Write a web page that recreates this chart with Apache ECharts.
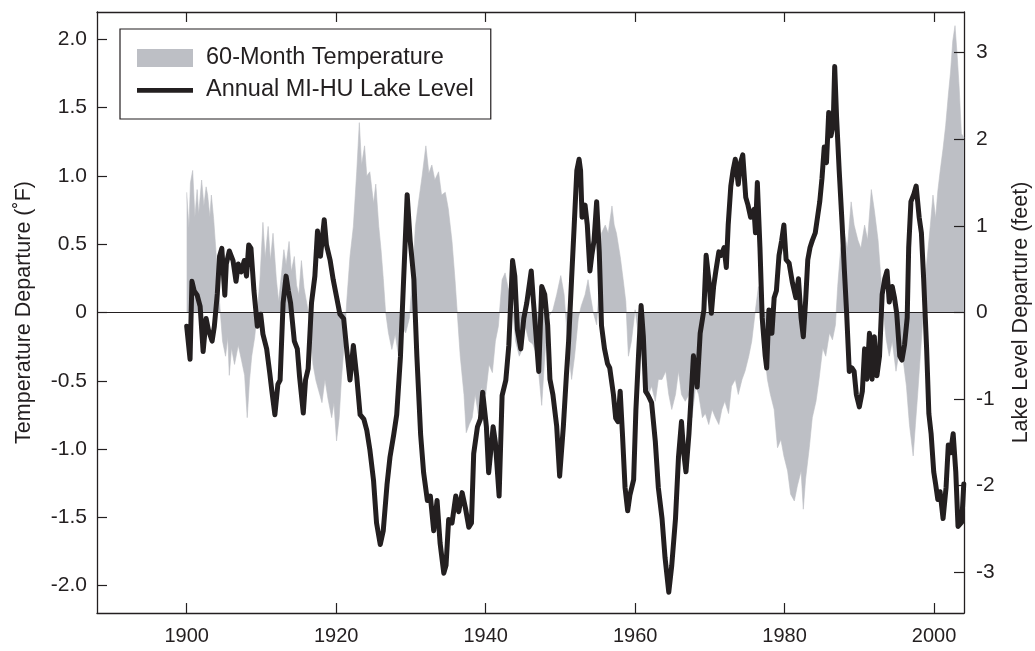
<!DOCTYPE html>
<html>
<head>
<meta charset="utf-8">
<script src="https://cdn.jsdelivr.net/npm/echarts@6/dist/echarts.min.js"></script>
<style>
html,body{margin:0;padding:0;background:#fff;}
#chart{width:1035px;height:651px;}
</style>
</head>
<body>
<div id="chart"></div>
<script>
// 60-month temperature departure (°F)
const tempYears = [1900.0,1900.3,1900.5,1900.8,1901.1,1901.4,1901.6,1902.0,1902.3,1902.6,1902.8,1903.1,1903.3,1903.6,1903.9,1904.25,1904.5,1904.8,1905.2,1905.5,1905.7,1906.0,1906.4,1906.9,1907.3,1907.75,1908.1,1908.4,1908.7,1909.1,1909.45,1909.8,1910.2,1910.5,1910.9,1911.2,1911.55,1912.0,1912.3,1912.7,1913.0,1913.3,1913.7,1914.0,1914.4,1914.7,1915.0,1915.35,1915.7,1916.25,1916.6,1916.9,1917.3,1917.8,1918.1,1918.5,1918.9,1919.4,1919.7,1920.05,1920.4,1920.7,1921.1,1921.4,1921.85,1922.3,1922.75,1923.1,1923.4,1923.8,1924.1,1924.5,1925.0,1925.3,1925.7,1926.0,1926.3,1926.6,1927.0,1927.45,1927.9,1928.35,1928.8,1929.3,1929.8,1930.1,1930.6,1931.0,1931.5,1932.0,1932.4,1932.8,1933.2,1933.7,1934.1,1934.6,1935.0,1935.5,1935.9,1936.2,1936.6,1937.1,1937.4,1937.8,1938.2,1938.6,1939.0,1939.45,1940.0,1940.45,1940.9,1941.3,1941.7,1942.2,1942.6,1943.0,1943.5,1944.0,1944.5,1944.9,1945.3,1945.8,1946.3,1946.9,1947.5,1947.9,1948.35,1949.0,1949.5,1950.05,1950.5,1950.95,1951.5,1951.9,1952.4,1952.8,1953.3,1953.7,1954.0,1954.4,1954.85,1955.2,1955.5,1956.0,1956.4,1956.9,1957.2,1957.5,1958.0,1958.4,1958.75,1959.1,1959.5,1960.0,1960.4,1960.9,1961.3,1961.8,1962.2,1962.7,1963.1,1963.6,1964.1,1964.5,1964.9,1965.4,1965.8,1966.2,1966.7,1967.2,1967.6,1968.1,1968.5,1969.0,1969.4,1969.85,1970.3,1970.75,1971.2,1971.6,1972.0,1972.5,1972.9,1973.4,1973.8,1974.3,1974.7,1975.2,1975.6,1976.1,1976.5,1976.8,1977.25,1977.7,1978.1,1978.6,1979.05,1979.5,1979.9,1980.4,1980.8,1981.3,1981.7,1982.2,1982.5,1982.8,1983.3,1983.7,1984.2,1984.6,1985.1,1985.5,1986.0,1986.4,1986.8,1987.1,1987.5,1988.0,1988.4,1988.9,1989.3,1989.8,1990.2,1990.7,1991.1,1991.6,1992.0,1992.5,1992.9,1993.2,1993.6,1994.0,1994.4,1994.9,1995.4,1995.8,1996.3,1996.7,1997.2,1997.5,1997.8,1998.15,1998.5,1998.9,1999.2,1999.5,1999.85,2000.2,2000.5,2000.8,2001.2,2001.55,2001.9,2002.2,2002.5,2002.8,2003.1,2003.35,2003.65,2004.0];
const tempValues = [0.88,0.62,0.95,1.04,0.70,0.90,0.72,0.97,0.78,0.92,0.86,0.70,0.86,0.69,0.46,0.18,0.00,-0.21,-0.32,-0.18,-0.46,-0.26,-0.38,-0.24,-0.34,-0.46,-0.77,-0.50,-0.32,-0.18,0.01,0.24,0.66,0.40,0.63,0.38,0.58,0.24,0.08,0.29,0.46,0.35,0.52,0.30,0.41,0.20,0.13,0.38,0.18,0.01,-0.18,-0.38,-0.50,-0.60,-0.66,-0.49,-0.63,-0.77,-0.66,-0.94,-0.77,-0.49,-0.21,0.07,0.41,0.63,1.03,1.39,1.08,1.22,1.00,1.03,0.80,0.94,0.63,0.46,0.25,0.01,-0.15,-0.27,-0.16,-0.32,-0.10,-0.15,-0.04,0.18,0.63,0.80,1.00,1.22,1.02,1.08,0.97,1.03,0.86,0.88,0.76,0.52,0.24,0.00,-0.32,-0.60,-0.88,-0.82,-0.77,-0.60,-0.74,-0.55,-0.60,-0.38,-0.44,-0.21,-0.10,0.24,0.29,0.18,0.10,-0.21,-0.32,-0.27,-0.10,-0.21,-0.23,-0.32,-0.68,-0.33,-0.04,0.02,0.13,0.27,0.13,-0.20,-0.49,-0.32,-0.04,0.05,0.13,0.24,0.13,0.00,-0.09,0.19,0.58,0.64,0.58,0.78,0.64,0.58,0.41,0.24,0.08,-0.32,-0.21,0.02,-0.15,-0.32,-0.49,-0.60,-0.54,-0.65,-0.49,-0.49,-0.43,-0.60,-0.71,-0.60,-0.43,-0.60,-0.65,-0.60,-0.77,-0.54,-0.60,-0.77,-0.74,-0.82,-0.71,-0.77,-0.82,-0.71,-0.65,-0.74,-0.54,-0.49,-0.60,-0.49,-0.43,-0.32,-0.21,0.02,0.19,-0.04,-0.26,-0.49,-0.60,-0.71,-0.99,-0.93,-1.05,-1.16,-1.33,-1.38,-1.27,-1.16,-1.44,-1.22,-0.99,-0.77,-0.65,-0.49,-0.26,-0.32,-0.15,-0.20,-0.09,0.19,0.47,0.58,0.47,0.81,0.64,0.53,0.47,0.64,0.53,0.90,0.75,0.53,0.24,0.00,-0.20,-0.32,-0.21,-0.43,-0.26,-0.32,-0.54,-0.82,-1.05,-0.82,-0.60,-0.32,-0.04,0.30,0.47,0.64,0.86,0.69,0.89,1.03,1.20,1.37,1.59,1.76,1.99,2.10,1.87,1.65,1.31,1.28];

// Michigan-Huron lake level departure (feet)
const lakeYears = [1900.0,1900.45,1900.7,1901.0,1901.4,1901.8,1902.2,1902.6,1902.9,1903.4,1903.7,1904.1,1904.4,1904.7,1905.1,1905.3,1905.7,1906.2,1906.6,1906.9,1907.3,1907.7,1908.0,1908.3,1908.6,1909.0,1909.45,1909.9,1910.2,1910.7,1911.1,1911.4,1911.8,1912.2,1912.5,1912.9,1913.3,1913.6,1913.9,1914.4,1914.8,1915.1,1915.6,1915.9,1916.25,1916.7,1917.15,1917.5,1917.9,1918.4,1918.7,1919.2,1919.6,1920.1,1920.5,1921.0,1921.4,1921.85,1922.3,1922.75,1923.2,1923.7,1924.1,1924.5,1925.0,1925.4,1925.9,1926.3,1926.8,1927.2,1927.7,1928.1,1928.6,1929.0,1929.5,1929.9,1930.4,1930.8,1931.3,1931.7,1932.2,1932.6,1933.05,1933.5,1933.9,1934.4,1934.7,1935.05,1935.5,1936.0,1936.4,1936.85,1937.3,1937.75,1938.1,1938.4,1938.9,1939.3,1939.6,1940.1,1940.4,1941.0,1941.3,1941.8,1942.2,1942.7,1943.1,1943.6,1943.9,1944.25,1944.7,1945.1,1945.5,1946.1,1946.4,1946.8,1947.1,1947.5,1947.9,1948.3,1948.6,1949.0,1949.5,1949.9,1950.4,1950.8,1951.1,1951.5,1951.85,1952.2,1952.5,1952.7,1952.9,1953.3,1953.6,1953.95,1954.2,1954.5,1954.85,1955.2,1955.5,1955.9,1956.3,1956.6,1957.1,1957.4,1957.7,1958.0,1958.3,1958.65,1959.0,1959.3,1959.8,1960.1,1960.45,1960.8,1961.1,1961.4,1961.7,1962.2,1962.7,1963.1,1963.6,1964.0,1964.5,1964.9,1965.4,1965.8,1966.2,1966.5,1966.8,1967.2,1967.5,1967.8,1968.3,1968.7,1969.2,1969.5,1969.85,1970.2,1970.5,1970.8,1971.2,1971.5,1971.9,1972.2,1972.45,1972.8,1973.1,1973.4,1973.8,1974.1,1974.4,1974.8,1975.1,1975.45,1975.9,1976.1,1976.35,1976.7,1977.0,1977.4,1977.6,1977.9,1978.3,1978.6,1978.9,1979.25,1979.6,1979.9,1980.2,1980.6,1981.05,1981.5,1981.85,1982.2,1982.5,1982.8,1983.1,1983.4,1983.7,1984.1,1984.4,1984.7,1985.0,1985.3,1985.6,1985.9,1986.2,1986.5,1986.7,1986.95,1987.3,1987.7,1988.0,1988.3,1988.65,1989.0,1989.3,1989.6,1990.0,1990.4,1990.7,1991.0,1991.35,1991.7,1992.0,1992.35,1992.7,1993.05,1993.4,1993.7,1994.0,1994.4,1994.7,1995.0,1995.4,1995.7,1996.05,1996.4,1996.6,1996.9,1997.3,1997.6,1998.0,1998.3,1998.6,1999.0,1999.3,1999.6,1999.95,2000.2,2000.5,2000.8,2001.2,2001.6,2001.9,2002.2,2002.55,2002.9,2003.2,2003.7,2003.97];
const lakeValues = [-0.16,-0.54,0.36,0.25,0.20,0.07,-0.45,-0.07,-0.20,-0.33,-0.16,0.22,0.65,0.74,0.20,0.56,0.71,0.60,0.36,0.56,0.47,0.60,0.42,0.78,0.74,0.25,-0.16,-0.02,-0.25,-0.42,-0.69,-0.91,-1.18,-0.83,-0.78,0.11,0.42,0.25,0.11,-0.33,-0.42,-0.74,-1.16,-0.78,-0.65,0.11,0.42,0.94,0.65,1.07,0.78,0.60,0.38,0.16,-0.02,-0.07,-0.42,-0.78,-0.38,-0.74,-1.18,-1.23,-1.36,-1.58,-1.94,-2.43,-2.68,-2.52,-1.99,-1.67,-1.41,-1.18,-0.51,0.33,1.36,0.83,0.38,-0.51,-1.41,-1.85,-2.17,-2.12,-2.52,-2.17,-2.66,-3.01,-2.92,-2.39,-2.43,-2.12,-2.30,-2.08,-2.26,-2.48,-2.43,-1.63,-1.32,-1.23,-0.92,-1.32,-1.85,-1.32,-1.50,-2.12,-0.96,-0.78,-0.38,0.60,0.42,-0.20,-0.42,-0.07,0.11,0.48,0.12,-0.33,-0.68,0.30,0.21,-0.15,-0.77,-0.95,-1.31,-1.89,-1.31,-0.73,-0.33,0.39,1.01,1.64,1.77,1.64,1.10,1.24,1.01,0.48,0.66,0.83,1.28,0.70,-0.15,-0.42,-0.59,-0.64,-0.95,-1.22,-1.26,-0.91,-1.40,-2.02,-2.29,-2.11,-1.93,-1.13,-0.50,0.08,-0.28,-0.91,-0.95,-1.04,-1.49,-2.02,-2.38,-2.83,-3.23,-2.92,-2.38,-1.67,-1.26,-1.62,-1.84,-1.40,-0.95,-0.50,-0.86,-0.24,0.03,0.66,0.39,-0.01,0.30,0.48,0.70,0.66,0.75,0.52,1.01,1.46,1.64,1.77,1.48,1.73,1.82,1.33,1.24,1.10,1.19,0.92,1.50,0.75,-0.06,-0.50,-0.64,0.03,-0.24,0.17,0.25,0.66,0.83,1.01,0.61,0.57,0.34,0.17,0.39,-0.06,-0.28,0.12,0.61,0.75,0.83,0.92,1.10,1.28,1.55,1.91,1.73,2.31,2.04,2.17,2.84,2.26,1.64,1.01,0.48,-0.01,-0.68,-0.64,-0.68,-0.95,-1.09,-0.91,-0.42,-0.77,-0.24,-0.77,-0.28,-0.73,-0.50,0.21,0.39,0.48,0.12,0.30,0.17,-0.01,-0.50,-0.55,-0.37,-0.06,0.75,1.28,1.37,1.46,1.10,0.92,0.39,-0.42,-1.17,-1.40,-1.84,-1.98,-2.16,-2.07,-2.38,-2.02,-1.53,-1.62,-1.40,-1.84,-2.47,-2.42,-1.98];

// tick positions (axis values)
const xTickYears = [1900, 1920, 1940, 1960, 1980, 2000];
const leftTicks = [-2.0, -1.5, -1.0, -0.5, 0, 0.5, 1.0, 1.5, 2.0];
const rightTicks = [-3, -2, -1, 0, 1, 2, 3];

const seriesNames = ['60-Month Temperature', 'Annual MI-HU Lake Level'];
const axisNames = ['Temperature Departure (\u02DAF)', 'Lake Level Departure (feet)'];

const X_MIN = 1888, X_MAX = 2004, TL_MIN = -2.2, TL_MAX = 2.2, LL_MIN = -3.47, LL_MAX = 3.47;
const X_TICK = 1.34;   // ~10 px along the year axis
const Y_TICK = 0.073;  // ~10 px along the temperature axis

const FONT = '"Liberation Sans", Arial, Helvetica, sans-serif';
const INK = '#231f20';
const GRAY = '#bdbfc5';

const tempData = tempYears.map((y, i) => [y, tempValues[i]]);
const lakeData = lakeYears.map((y, i) => [y, lakeValues[i]]);

// tick marks drawn as short mark-line segments through the axes' own scales
const tempMarks = [{yAxis: 0}]
  .concat(xTickYears.map(yr => [{coord: [yr, TL_MIN]}, {coord: [yr, TL_MIN + Y_TICK]}]))
  .concat(xTickYears.map(yr => [{coord: [yr, TL_MAX]}, {coord: [yr, TL_MAX - Y_TICK]}]))
  .concat(leftTicks.map(v => [{coord: [X_MIN, v]}, {coord: [X_MIN + X_TICK, v]}]));
const lakeMarks = rightTicks.map(v => [{coord: [X_MAX, v]}, {coord: [X_MAX - X_TICK, v]}]);

const chart = echarts.init(document.getElementById('chart'));

function mkLine() { return {show: true, onZero: false, lineStyle: {color: INK, width: 1.3}}; }
function mkMark(data) {
  return {
    silent: true, symbol: ['none', 'none'], precision: 4,
    label: {show: false},
    emphasis: {disabled: true},
    lineStyle: {color: INK, width: 1.2, type: 'solid', opacity: 1},
    data
  };
}

// thick horizontal bar, padded with invisible moves so it keeps a thin height in the legend box
const LINE_ICON = 'path://M0,0L0.01,0M0,7L56,7L56,11.8L0,11.8ZM56,18L56.01,18';

chart.setOption({
  animation: false,
  grid: {left: 97, right: 71, top: 12, bottom: 38, outerBoundsMode: 'none'},
  legend: {
    orient: 'vertical',
    left: 120, top: 29,
    padding: [17, 17, 17, 17],
    itemWidth: 56, itemHeight: 18, itemGap: 8,
    backgroundColor: '#fff',
    borderColor: INK, borderWidth: 1.2, borderRadius: 0,
    textStyle: {fontFamily: FONT, fontSize: 23.5, color: INK, padding: [0, 0, 0, 8]},
    data: [{name: seriesNames[0], icon: 'rect'}, {name: seriesNames[1], icon: LINE_ICON}]
  },
  xAxis: [{
    type: 'value', position: 'bottom', min: X_MIN, max: X_MAX,
    minInterval: 20, maxInterval: 20,
    axisLine: mkLine(), axisTick: {show: false},
    splitLine: {show: false},
    axisLabel: {fontFamily: FONT, fontSize: 20, color: INK, margin: 13,
      formatter: v => (v % 20 === 0 ? String(v) : '')}
  }, {
    type: 'value', position: 'top', min: X_MIN, max: X_MAX,
    minInterval: 20, maxInterval: 20,
    axisLine: mkLine(), axisTick: {show: false},
    splitLine: {show: false},
    axisLabel: {show: false}
  }],
  yAxis: [{
    type: 'value', position: 'left', min: TL_MIN, max: TL_MAX,
    minInterval: 0.5, maxInterval: 0.5,
    name: axisNames[0], nameLocation: 'middle', nameGap: 62,
    nameTextStyle: {fontFamily: FONT, fontSize: 21.5, color: INK},
    axisLine: mkLine(), axisTick: {show: false},
    splitLine: {show: false},
    axisLabel: {fontFamily: FONT, fontSize: 21, color: INK, margin: 10,
      formatter: v => (Math.abs(v) > 2.1 ? '' : (Math.abs(v) < 1e-9 ? '0' : v.toFixed(1)))}
  }, {
    type: 'value', position: 'right', min: LL_MIN, max: LL_MAX,
    minInterval: 1, maxInterval: 1,
    name: axisNames[1], nameLocation: 'middle', nameGap: 46,
    nameTextStyle: {fontFamily: FONT, fontSize: 21.5, color: INK},
    axisLine: mkLine(), axisTick: {show: false},
    splitLine: {show: false},
    axisLabel: {fontFamily: FONT, fontSize: 21, color: INK, margin: 12,
      formatter: v => (Math.abs(v - Math.round(v)) < 1e-9 ? String(Math.round(v)) : '')}
  }],
  series: [{
    name: seriesNames[0],
    type: 'line',
    xAxisIndex: 0, yAxisIndex: 0,
    data: tempData,
    showSymbol: false, symbol: 'none',
    color: GRAY,
    lineStyle: {width: 0.6, color: GRAY},
    areaStyle: {color: GRAY, opacity: 1, origin: 0},
    itemStyle: {color: GRAY},
    z: 1,
    markLine: mkMark(tempMarks)
  }, {
    name: seriesNames[1],
    type: 'line',
    xAxisIndex: 0, yAxisIndex: 1,
    data: lakeData,
    showSymbol: false, symbol: 'none',
    color: INK,
    itemStyle: {color: INK},
    lineStyle: {width: 5, color: INK, join: 'round', cap: 'round'},
    z: 4,
    markLine: mkMark(lakeMarks)
  }]
});
</script>
</body>
</html>
